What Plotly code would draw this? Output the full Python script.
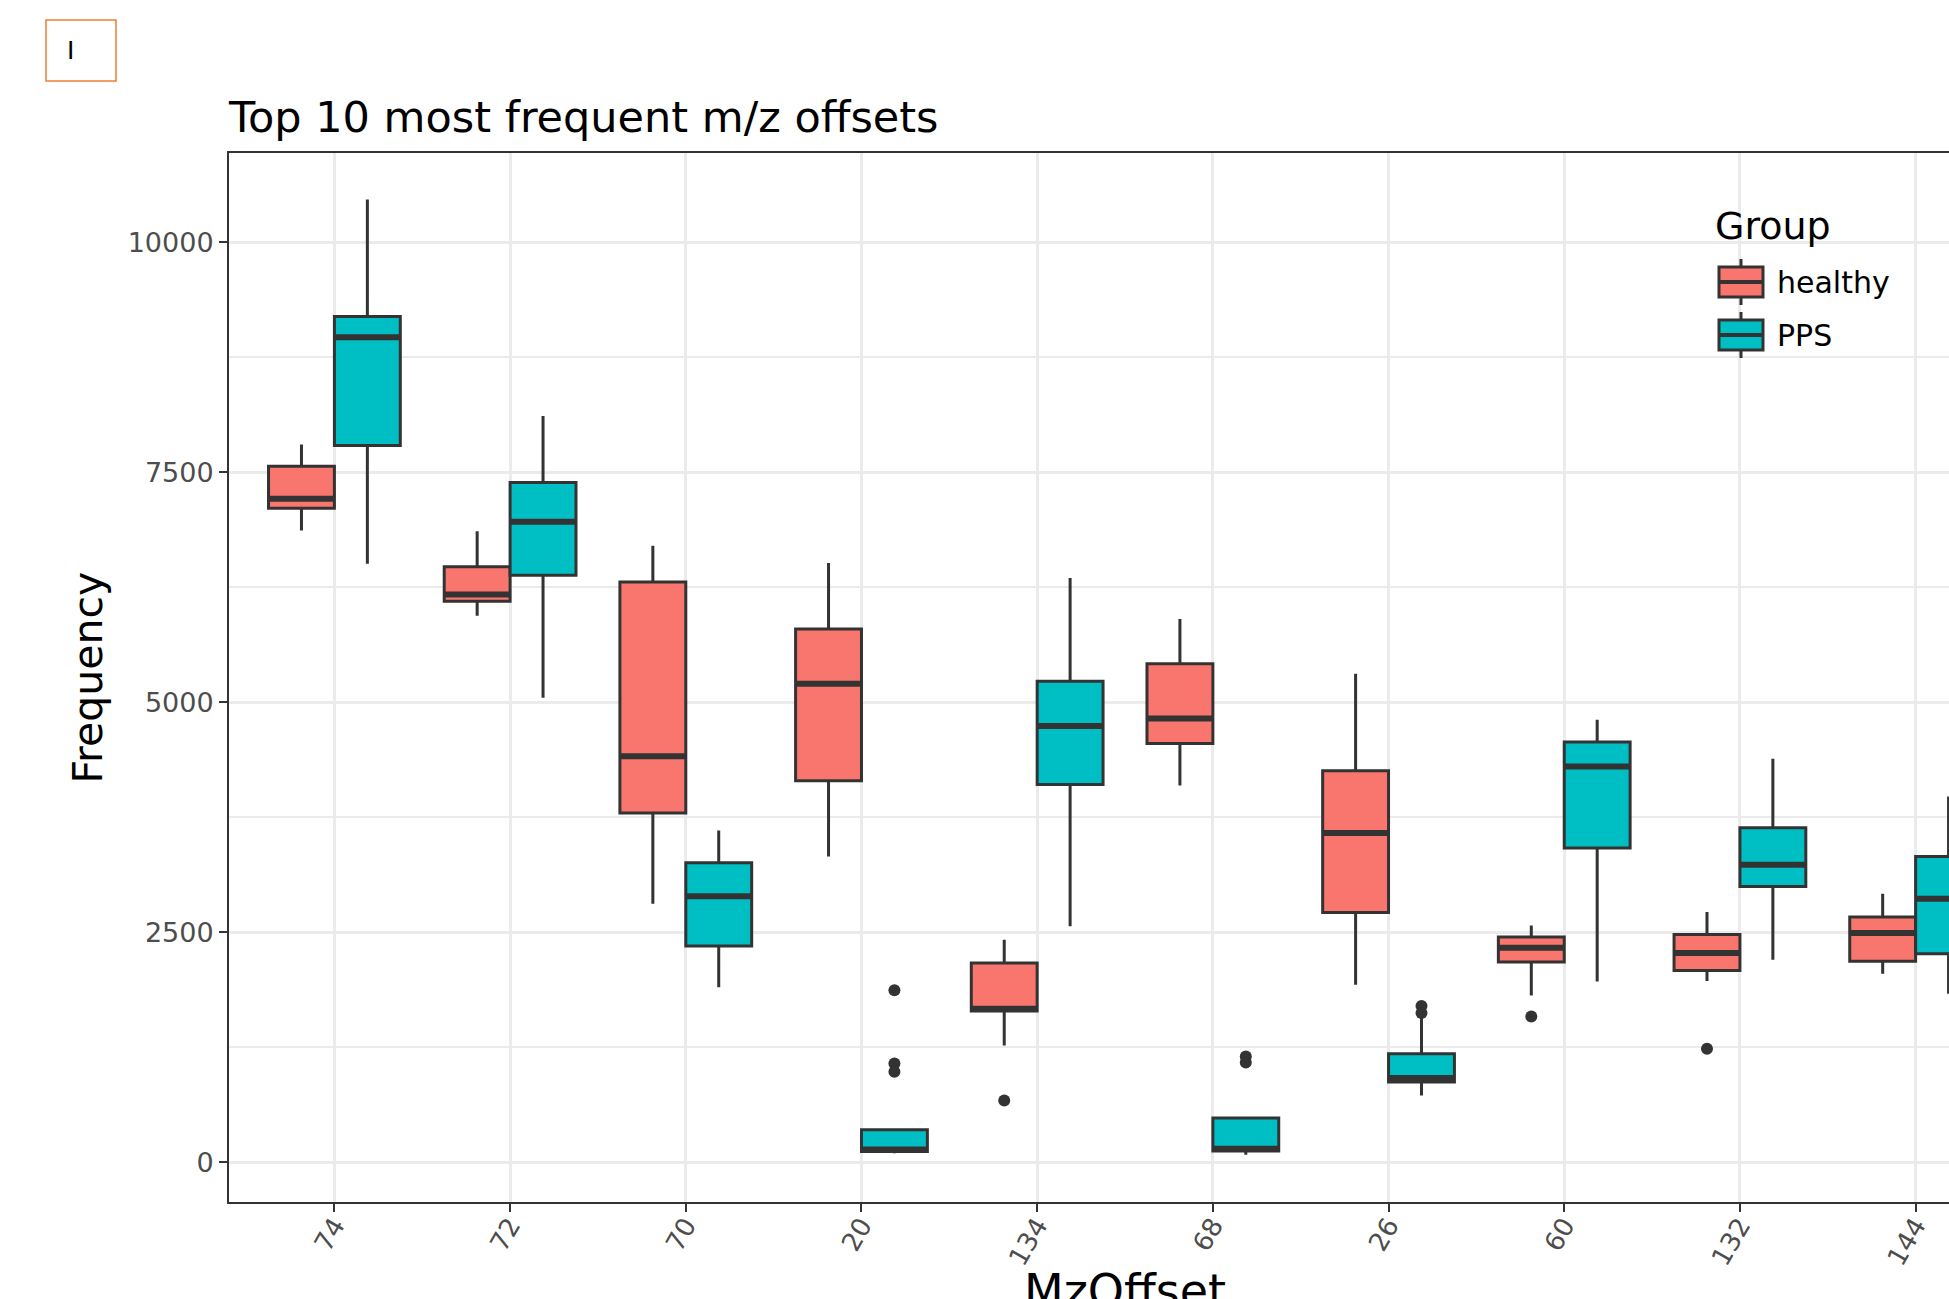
import plotly.graph_objects as go

# ---------------- data ----------------
categories = ["74", "72", "70", "20", "134", "68", "26", "60", "132", "144"]

healthy_lowerfence = [6867, 5940, 2811, 3324, 1272, 4095, 1932, 1815, 1971, 2051]
healthy_q1 = [7109, 6098, 3797, 4149, 1645, 4554, 2716, 2177, 2087, 2185]
healthy_median = [7213, 6173, 4413, 5203, 1670, 4824, 3581, 2333, 2275, 2492]
healthy_q3 = [7566, 6473, 6307, 5797, 2167, 5419, 4257, 2449, 2478, 2667]
healthy_upperfence = [7803, 6860, 6701, 6514, 2420, 5905, 5311, 2576, 2721, 2920]

pps_lowerfence = [6505, 5050, 1905, 100, 2568, 83, 728, 1967, 2203, 1834]
pps_q1 = [7791, 6380, 2351, 120, 4108, 123, 873, 3416, 3000, 2268]
pps_median = [8968, 6963, 2892, 140, 4743, 150, 917, 4304, 3236, 2866]
pps_q3 = [9193, 7388, 3257, 355, 5230, 482, 1181, 4569, 3638, 3326]
pps_upperfence = [10466, 8112, 3608, 355, 6351, 482, 1590, 4812, 4388, 3978]

healthy_outlier_cat = ["134", "60", "132"]
healthy_outlier_val = [674, 1587, 1236]
pps_outlier_cat = ["20", "20", "20", "68", "68", "26", "26"]
pps_outlier_val = [1870, 1075, 985, 1150, 1085, 1700, 1625]

y_ticks = [0, 2500, 5000, 7500, 10000]
y_minor = [1250, 3750, 6250, 8750]

# ---------------- styling / layout ----------------
FONT = "DejaVu Sans"
W, H = 1949, 1299
ML, MR, MT, MB = 229, 0, 153, 97
PW, PH = W - ML - MR, H - MT - MB

HEALTHY = "#F8766D"
PPS = "#00BFC4"
DARK = "#333333"
GRID = "#EBEBEB"
BOXW = 0.375
DODGE = BOXW / 2


def px(xp):
    return (xp - ML) / PW


def py(yp):
    return (H - MB - yp) / PH


pos = list(range(len(categories)))
fig = go.Figure()

groups = [
    ("healthy", HEALTHY, -DODGE, healthy_lowerfence, healthy_q1, healthy_median, healthy_q3, healthy_upperfence),
    ("PPS", PPS, DODGE, pps_lowerfence, pps_q1, pps_median, pps_q3, pps_upperfence),
]

for name, col, off, lf, q1, med, q3, uf in groups:
    fig.add_trace(go.Box(
        x=[p + off for p in pos], lowerfence=lf, q1=q1, median=med, q3=q3, upperfence=uf,
        name=name, fillcolor=col, line=dict(color=DARK, width=3),
        width=BOXW, whiskerwidth=0, boxpoints=False, hoverinfo="skip", showlegend=False,
    ))

# thicker median bars (ggplot style)
for name, col, off, lf, q1, med, q3, uf in groups:
    mx, my = [], []
    for p, m in zip(pos, med):
        mx += [p + off - BOXW / 2, p + off + BOXW / 2, None]
        my += [m, m, None]
    fig.add_trace(go.Scatter(x=mx, y=my, mode="lines", line=dict(color=DARK, width=6),
                             showlegend=False, hoverinfo="skip"))

# outliers
for cats, vals, off in [(healthy_outlier_cat, healthy_outlier_val, -DODGE),
                        (pps_outlier_cat, pps_outlier_val, DODGE)]:
    fig.add_trace(go.Scatter(
        x=[categories.index(c) + off for c in cats], y=vals, mode="markers",
        marker=dict(color=DARK, size=12), showlegend=False, hoverinfo="skip",
    ))

fig.update_layout(
    width=W, height=H, autosize=False,
    margin=dict(l=ML, r=MR, t=MT, b=MB, pad=0),
    paper_bgcolor="white", plot_bgcolor="white",
    font=dict(family=FONT, color="black"),
    boxmode="overlay", showlegend=False,
    title=dict(text="Top 10 most frequent m/z offsets", x=0, xref="paper", xanchor="left",
               y=1 - 117 / H, yref="container", yanchor="middle",
               font=dict(family=FONT, size=43, color="black")),
)

fig.update_xaxes(
    range=[-0.6, 9.19], tickmode="array", tickvals=pos, ticktext=categories,
    tickangle=-60, tickfont=dict(family=FONT, size=26, color="#4D4D4D"),
    ticklabelstandoff=-12,
    showgrid=True, gridcolor=GRID, gridwidth=2.5, zeroline=False,
    ticks="outside", ticklen=8, tickwidth=2, tickcolor=DARK,
    showline=True, linecolor=DARK, linewidth=2, mirror=True,
)
fig.update_yaxes(
    range=[-430, 10970], tickmode="array", tickvals=y_ticks,
    ticktext=[str(v) for v in y_ticks],
    tickfont=dict(family=FONT, size=27, color="#4D4D4D"),
    showgrid=True, gridcolor=GRID, gridwidth=2.5, zeroline=False,
    minor=dict(tickmode="array", tickvals=y_minor, showgrid=True, gridcolor=GRID, gridwidth=1.5, ticks=""),
    ticks="outside", ticklen=8, tickwidth=2, tickcolor=DARK,
    showline=True, linecolor=DARK, linewidth=2, mirror=False,
)

# ---------------- legend (ggplot-style key glyphs) ----------------
fig.add_shape(type="rect", xref="paper", yref="paper", x0=px(1687), x1=px(1935), y0=py(362), y1=py(196),
              line=dict(width=0), fillcolor="white", layer="between")
fig.add_annotation(text="Group", xref="paper", yref="paper", x=px(1713), y=py(226),
                   xanchor="left", yanchor="middle", showarrow=False,
                   font=dict(family=FONT, size=38, color="black"))
legend_items = [("healthy", HEALTHY, 282), ("PPS", PPS, 335)]
for label, col, yc in legend_items:
    x0, x1, xm = 1719, 1763, 1741
    fig.add_shape(type="line", xref="paper", yref="paper", x0=px(xm), x1=px(xm),
                  y0=py(yc - 23), y1=py(yc + 23), line=dict(color=DARK, width=3), layer="above")
    fig.add_shape(type="rect", xref="paper", yref="paper", x0=px(x0), x1=px(x1),
                  y0=py(yc + 15), y1=py(yc - 15), line=dict(color=DARK, width=3),
                  fillcolor=col, layer="above")
    fig.add_shape(type="line", xref="paper", yref="paper", x0=px(x0), x1=px(x1),
                  y0=py(yc), y1=py(yc), line=dict(color=DARK, width=4), layer="above")
    fig.add_annotation(text=label, xref="paper", yref="paper", x=px(1775), y=py(yc),
                       xanchor="left", yanchor="middle", showarrow=False,
                       font=dict(family=FONT, size=30, color="black"))

# axis titles
fig.add_annotation(text="Frequency", xref="paper", yref="paper", x=px(87), y=0.5,
                   xanchor="center", yanchor="middle", textangle=-90, showarrow=False,
                   font=dict(family=FONT, size=41, color="black"))
fig.add_annotation(text="MzOffset", xref="x", yref="paper", x=4.5, y=py(1262),
                   xanchor="center", yanchor="top", showarrow=False,
                   font=dict(family=FONT, size=46, color="black"))

# small orange label box at the top-left
fig.add_shape(type="rect", xref="paper", yref="paper", x0=px(46), x1=px(116), y0=py(81), y1=py(20),
              line=dict(color="#ED7D31", width=1.5), fillcolor="rgba(0,0,0,0)")
fig.add_annotation(text="I", xref="paper", yref="paper", x=px(70), y=py(51),
                   xanchor="center", yanchor="middle", showarrow=False,
                   font=dict(family=FONT, size=25, color="black"))

fig.write_html("out.html", config={"displayModeBar": False},
               post_script="document.body.style.margin='0px';")
